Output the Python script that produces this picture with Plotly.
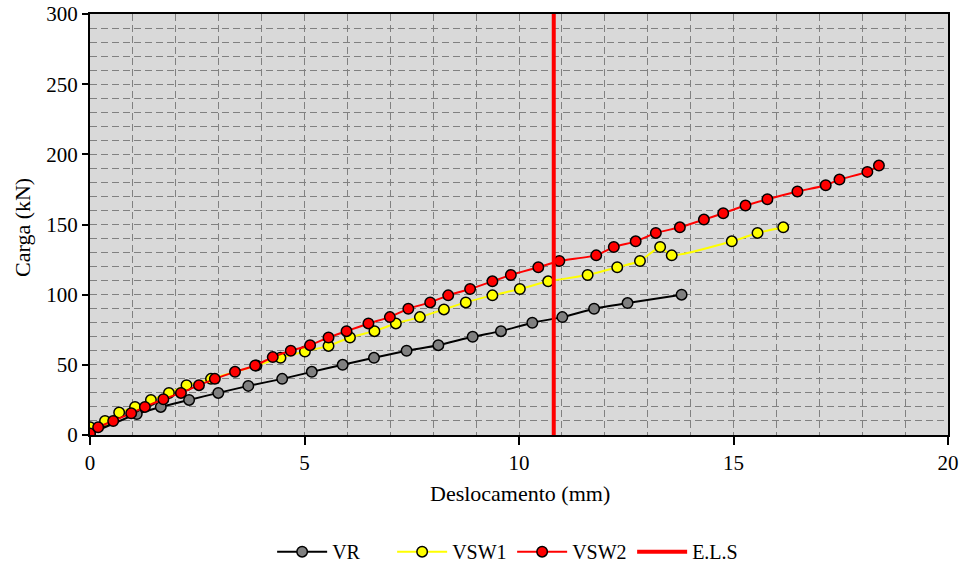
import plotly.graph_objects as go

# Data
VR_x = [0, 1.09, 1.65, 2.31, 2.99, 3.69, 4.48, 5.17, 5.89, 6.62, 7.38, 8.12, 8.92, 9.58, 10.31, 11.01, 11.75, 12.53, 13.79]
VR_y = [1, 15, 20, 25, 30, 35, 40, 45, 50, 55, 60, 64, 70, 74, 80, 84, 90, 94, 100]

VSW1_x = [0, 0.35, 0.68, 1.05, 1.42, 1.84, 2.25, 2.82, 3.88, 4.44, 5.01, 5.56, 6.06, 6.63, 7.13, 7.69,
          8.25, 8.76, 9.38, 10.02, 10.68, 11.6, 12.29, 12.82, 13.29, 13.56, 14.96, 15.56, 16.16]
VSW1_y = [5.5, 10, 16, 20, 25, 30, 35.5, 40, 49.5, 55, 59.5, 63.5, 69.5, 74, 79.5, 84,
          89.5, 94.5, 99.5, 104, 109.5, 114, 119.5, 124, 134, 128, 138, 144, 148]

VSW2_x = [0, 0.19, 0.54, 0.96, 1.28, 1.71, 2.12, 2.54, 2.91, 3.38, 3.85, 4.26, 4.68, 5.13, 5.56, 5.98,
          6.49, 6.99, 7.42, 7.93, 8.35, 8.86, 9.38, 9.81, 10.45, 10.94, 11.8, 12.21, 12.72, 13.19,
          13.75, 14.31, 14.76, 15.28, 15.79, 16.49, 17.15, 17.47, 18.12, 18.39]
VSW2_y = [1, 5.5, 10, 15.5, 20, 25.5, 30, 35.5, 40, 45, 49.5, 55.5, 60, 64, 69.5, 74,
          79.5, 84, 90, 94.5, 99.5, 104, 109.5, 114, 119.5, 124, 128, 134, 138, 144,
          148, 153.5, 158, 163.5, 168, 173.5, 178, 182, 187.5, 192]

ELS_x = [10.81, 10.81]
ELS_y = [0, 300]

x_ticks = [0, 5, 10, 15, 20]
y_ticks = [0, 50, 100, 150, 200, 250, 300]

FONT = "Liberation Serif, Times New Roman, serif"

fig = go.Figure()

def series(x, y, name, line_color, fill):
    fig.add_trace(go.Scatter(
        x=x, y=y, name=name, mode="lines+markers",
        line=dict(color=line_color, width=2, shape="spline", smoothing=0.5),
        marker=dict(size=10.5, color=fill, line=dict(color="black", width=1.5)),
    ))

series(VR_x, VR_y, "VR", "black", "#808080")
series(VSW1_x, VSW1_y, "VSW1", "#ffff00", "#ffff00")
series(VSW2_x, VSW2_y, "VSW2", "#ff0000", "#ff0000")

fig.add_trace(go.Scatter(x=ELS_x, y=ELS_y, name="E.L.S", mode="lines",
                         line=dict(color="#ff0000", width=4)))

grid = dict(gridcolor="#808080", gridwidth=1, griddash="7px,4px")

fig.update_xaxes(
    range=[0, 20], tickvals=x_ticks, ticktext=[str(v) for v in x_ticks],
    showline=True, linecolor="black", linewidth=2, mirror=True, automargin=False,
    ticks="outside", ticklen=8, tickwidth=1.5, tickcolor="black",
    showgrid=True, **grid, zeroline=False, ticklabeloverflow="allow",
    minor=dict(dtick=1, showgrid=True, **grid, ticks=""),
    tickfont=dict(family=FONT, size=21, color="black"),
)
fig.update_yaxes(
    range=[0, 300], tickvals=y_ticks, ticktext=[str(v) for v in y_ticks],
    showline=True, linecolor="black", linewidth=2, mirror=True, automargin=False,
    ticks="outside", ticklen=6, tickwidth=1.5, tickcolor="black",
    showgrid=True, **grid, zeroline=False, ticklabeloverflow="allow",
    minor=dict(dtick=10, showgrid=True, **grid, ticks=""),
    tickfont=dict(family=FONT, size=21, color="black"),
)

fig.update_layout(
    width=962, height=569,
    margin=dict(l=90, r=14, t=14, b=134),
    plot_bgcolor="#d9d9d9", paper_bgcolor="white",
    font=dict(family=FONT, size=20, color="black"),
    showlegend=True,
    legend=dict(orientation="h", x=0.492, xanchor="center", yref="container", y=0.0305, yanchor="middle",
                font=dict(family=FONT, size=20), bgcolor="rgba(0,0,0,0)",
                itemwidth=50, entrywidth=55, entrywidthmode="pixels"),
    annotations=[
        dict(text="Deslocamento (mm)", xref="paper", yref="paper", x=0.501, y=-0.14,
             xanchor="center", yanchor="middle", showarrow=False,
             font=dict(family=FONT, size=22)),
        dict(text="Carga (kN)", xref="paper", yref="paper", x=-0.0793, y=0.494,
             xanchor="center", yanchor="middle", showarrow=False, textangle=-90,
             font=dict(family=FONT, size=22)),
    ],
)

fig.write_html("out.html", config={"displayModeBar": False},
               post_script="document.body.style.margin='0';")
